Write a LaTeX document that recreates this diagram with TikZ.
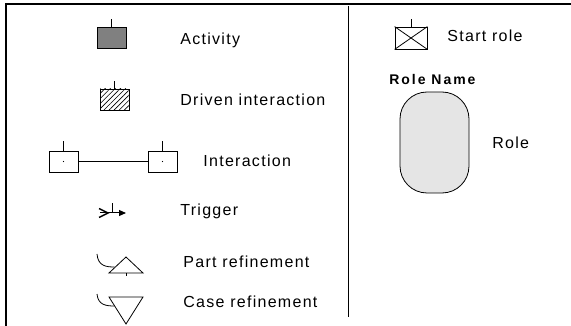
\documentclass[tikz,border=0pt]{standalone}
\usepackage{fontspec}
\setmainfont{Liberation Sans}[LetterSpace=8]
\usetikzlibrary{arrows.meta, patterns.meta, positioning}

\begin{document}
\begin{tikzpicture}[x=1pt, y=-1pt, line width=.8pt,
  font=\fontsize{16}{18}\selectfont,
  box/.style={draw, minimum width=29pt, minimum height=21pt, inner sep=0pt},
  txt/.style={anchor=base west, inner sep=0pt}]
\useasboundingbox (0,0) rectangle (571,326);

% frame and divider
\draw [line width=2pt] (6,327) -- (6,4.5) -- (572,4.5);
\draw (348,6) -- (348,317);

% activity
\node [box, fill=black!50] (act) at (111.5,38) {};
\draw (act.north) -- ++(0,-8);
\node [txt] (lact) at (180,45) {Activity};

% driven interaction
\node [box, pattern={Lines[angle=45, distance=3.6pt, line width=.6pt]}] (drv) at (114.5,99.5) {};
\draw (drv.north) -- ++(0,-8);
\node [txt] (ldrv) at (180,106) {Driven interaction};

% interaction
\node [box] (ia) at (63.5,161.5) {};
\node [box] (ib) at (162.5,161.5) {};
\fill (ia.center) circle [radius=.6];
\fill (ib.center) circle [radius=.6];
\draw (ia.north) -- ++(0,-10);
\draw (ib.north) -- ++(0,-10);
\draw (ia) -- (ib);
\node [txt] (lia) at (203,167) {Interaction};

% trigger
\coordinate (tr) at (112,213);
\draw [line width=1.4pt] (99,208.5) -- (108,213) -- (99,217.5);
\draw [line width=1pt, -{Triangle[length=7pt,width=6pt]}] (100,213) -- (126,213);
\draw (tr) -- ++(0,-10);
\node [txt] (ltr) at (180,215) {Trigger};

% part refinement
\draw (126,257) -- (143,273) -- (109,273) -- cycle;
\draw (126,273) -- (126,276);
\draw (97,254) .. controls (98,266) and (106,267) .. (114.5,267);
\node [txt] (lpr) at (183,268) {Part refinement};

% case refinement
\draw (109,297) -- (143,297) -- (126,324) -- cycle;
\draw (97,294) .. controls (98,305) and (106,306) .. (114.5,306);
\node [txt] (lcr) at (183,307) {Case refinement};

% start role
\node [box, minimum width=32pt, minimum height=22pt] (sr) at (411,38) {};
\draw (sr.north west) -- (sr.south east) (sr.north east) -- (sr.south west);
\draw (sr.north) -- ++(0,-8);
\node [txt] (lsr) at (447,42) {Start role};

% role
\node [txt, font=\fontsize{14}{16}\selectfont\bfseries\addfontfeatures{LetterSpace=14}] (rname) at (389,85) {Role Name};
\node [draw, fill=black!10, rounded corners=27pt, minimum width=69pt,
  minimum height=101pt] (role) at (434.5,142.5) {};
\node [txt] (lrole) at (492,149) {Role};
\end{tikzpicture}
\end{document}
